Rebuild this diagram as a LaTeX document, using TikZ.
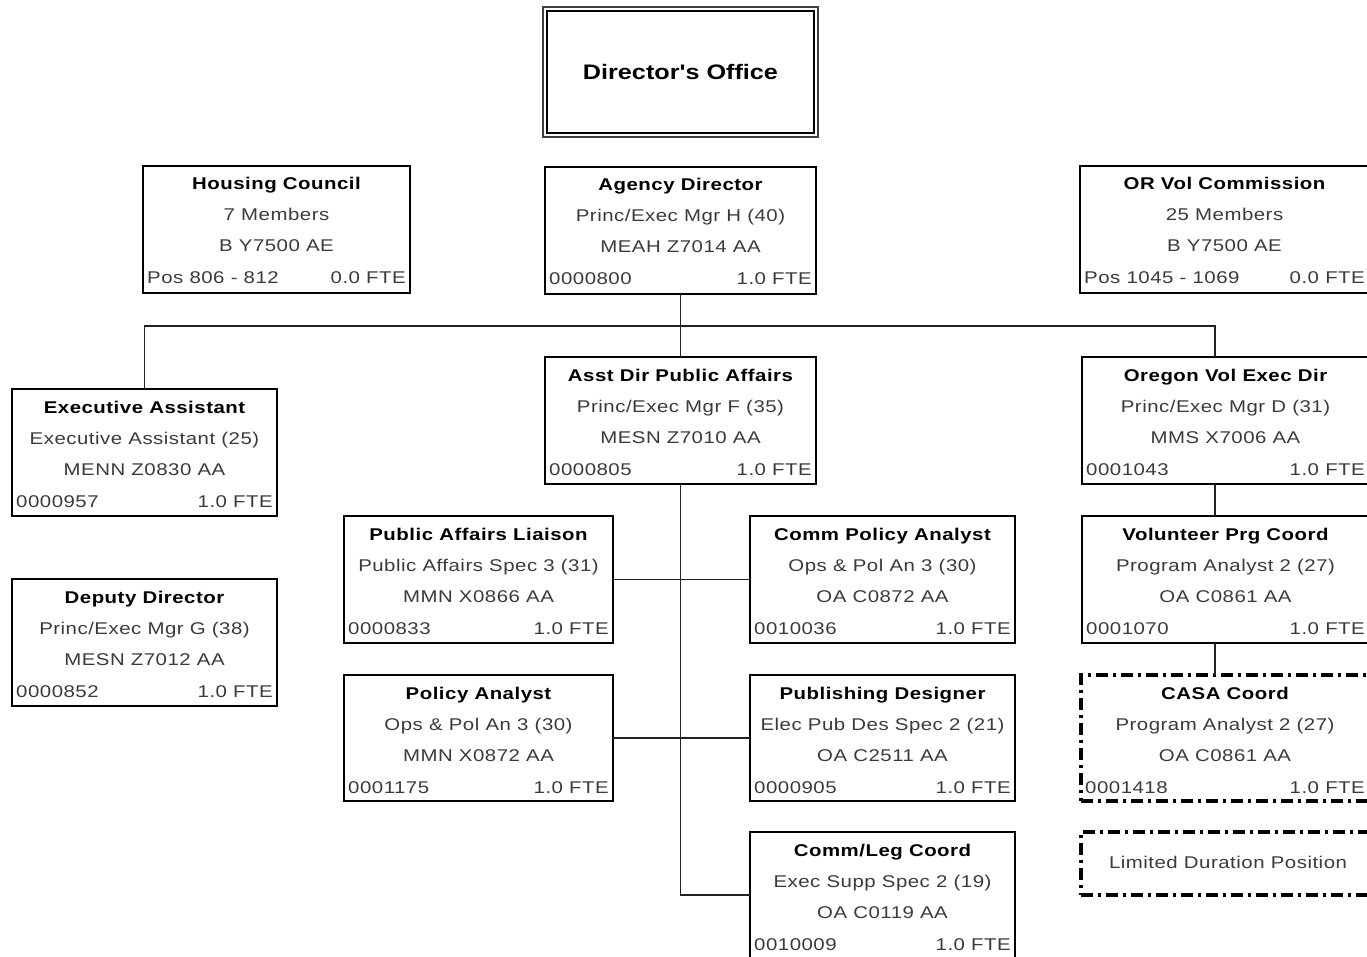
\documentclass[tikz,border=0pt]{standalone}
\usepackage{fontspec}
\setmainfont{Liberation Sans}[FakeStretch=1.2,LetterSpace=3]
\newfontfamily\headfont{Liberation Sans}[FakeStretch=1.2]
\definecolor{txtgray}{HTML}{3A3A3A}
\definecolor{wire}{HTML}{222222}

\tikzset{
  posbox/.style={draw=black, rectangle, inner sep=0pt, outer sep=0pt, line width=1.4pt},
  heavybox/.style={posbox, line width=2.6pt},
  midbox/.style={posbox, line width=2pt},
  ldbox/.style={draw=black, rectangle, inner sep=0pt, outer sep=0pt, line width=3.2pt,
                dash pattern=on 12pt off 5pt on 3pt off 5pt},
  titletxt/.style={inner sep=0pt, font=\fontsize{17}{19}\selectfont\bfseries, text=black},
  bodytxt/.style={inner sep=0pt, font=\fontsize{17}{19}\selectfont, text=txtgray},
  wireline/.style={draw=wire, line width=1.2pt},
}

% #1 name, #2 box style and size, #3 top-left corner,
% #4 title, #5 class, #6 code, #7 position number, #8 FTE
\newcommand\orgbox[8]{%
  \node[#2, anchor=north west] (#1) at (#3) {};
  \node[titletxt, anchor=base] (#1-t) at ([yshift=-24pt]#1.north) {#4};
  \node[bodytxt, anchor=base] (#1-a) at ([yshift=-55pt]#1.north) {#5};
  \node[bodytxt, anchor=base] (#1-b) at ([yshift=-86pt]#1.north) {#6};
  \node[bodytxt, anchor=base west] (#1-l) at ([xshift=4pt,yshift=-118pt]#1.north west) {#7};
  \node[bodytxt, anchor=base east] (#1-r) at ([xshift=-4pt,yshift=-118pt]#1.north east) {#8};
}

\begin{document}
\begin{tikzpicture}[x=1pt, y=-1pt]
\useasboundingbox (0,0) rectangle (1367,957);

% Director's Office, double frame
\node[posbox, draw=black!75, line width=1.3pt, minimum width=275, minimum height=130, anchor=north west] (dirout) at (543,7) {};
\node[posbox, line width=2.4pt, minimum width=267, minimum height=122, anchor=north west,
      font=\headfont\fontsize{21}{24}\selectfont\bfseries] (dir) at (547,11) {Director's Office};

% top row
\orgbox{hc}{heavybox, minimum width=267, minimum height=127}{143,166}
  {Housing Council}{7 Members}{B Y7500 AE}{Pos 806 - 812}{0.0 FTE}
\orgbox{ad}{heavybox, minimum width=271, minimum height=127}{545,167}
  {Agency Director}{Princ/Exec Mgr H (40)}{MEAH Z7014 AA}{0000800}{1.0 FTE}
\orgbox{ovc}{heavybox, minimum width=289, minimum height=127}{1080,166}
  {OR Vol Commission}{25 Members}{B Y7500 AE}{Pos 1045 - 1069}{0.0 FTE}

% second level
\orgbox{ea}{posbox, minimum width=265, minimum height=127}{12,389}
  {Executive Assistant}{Executive Assistant (25)}{MENN Z0830 AA}{0000957}{1.0 FTE}
\orgbox{dd}{posbox, minimum width=265, minimum height=127}{12,579}
  {Deputy Director}{Princ/Exec Mgr G (38)}{MESN Z7012 AA}{0000852}{1.0 FTE}
\orgbox{adpa}{midbox, minimum width=271, minimum height=127}{545,357}
  {Asst Dir Public Affairs}{Princ/Exec Mgr F (35)}{MESN Z7010 AA}{0000805}{1.0 FTE}
\orgbox{ove}{midbox, minimum width=287, minimum height=127}{1082,357}
  {Oregon Vol Exec Dir}{Princ/Exec Mgr D (31)}{MMS X7006 AA}{0001043}{1.0 FTE}

% public affairs staff
\orgbox{pal}{posbox, minimum width=269, minimum height=127}{344,516}
  {Public Affairs Liaison}{Public Affairs Spec 3 (31)}{MMN X0866 AA}{0000833}{1.0 FTE}
\orgbox{cpa}{posbox, minimum width=265, minimum height=127}{750,516}
  {Comm Policy Analyst}{Ops \& Pol An 3 (30)}{OA C0872 AA}{0010036}{1.0 FTE}
\orgbox{pa}{posbox, minimum width=269, minimum height=126}{344,675}
  {Policy Analyst}{Ops \& Pol An 3 (30)}{MMN X0872 AA}{0001175}{1.0 FTE}
\orgbox{pd}{posbox, minimum width=265, minimum height=126}{750,675}
  {Publishing Designer}{Elec Pub Des Spec 2 (21)}{OA C2511 AA}{0000905}{1.0 FTE}
\orgbox{clc}{posbox, minimum width=265, minimum height=126}{750,832}
  {Comm/Leg Coord}{Exec Supp Spec 2 (19)}{OA C0119 AA}{0010009}{1.0 FTE}

% volunteer staff
\orgbox{vpc}{posbox, minimum width=287, minimum height=127}{1082,516}
  {Volunteer Prg Coord}{Program Analyst 2 (27)}{OA C0861 AA}{0001070}{1.0 FTE}
\orgbox{casa}{ldbox, minimum width=288, minimum height=126}{1081,675}
  {CASA Coord}{Program Analyst 2 (27)}{OA C0861 AA}{0001418}{1.0 FTE}

% legend
\node[ldbox, minimum width=288, minimum height=63, anchor=north west] (legend) at (1081,832) {};
\node[bodytxt, anchor=base] (legend-t) at (1228,868) {Limited Duration Position};

% connectors
\coordinate (busR) at (1215,326);
\draw[wireline] (ad.south) -- (adpa.north);
\draw[wireline] (ea.north) -- (ea.north |- busR) -- (busR) -- (busR |- ove.north);
\draw[wireline] (busR |- ove.south) -- (busR |- vpc.north);
\draw[wireline] (busR |- vpc.south) -- (busR |- casa.north);
\draw[wireline] (adpa.south) -- (adpa.south |- clc.west) -- (clc.west);
\draw[wireline] (pal.east) -- (cpa.west);
\draw[wireline, line width=1.8pt] (pa.east) -- (pd.west);

\end{tikzpicture}
\end{document}
